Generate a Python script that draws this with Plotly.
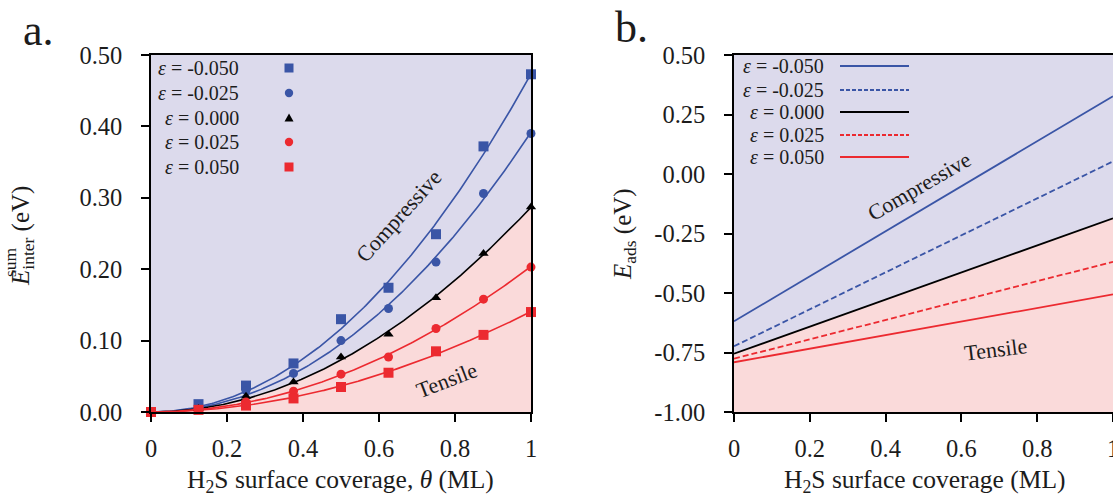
import numpy as np
import plotly.graph_objects as go

# ---- data -------------------------------------------------------------
coverage = [0.0, 0.125, 0.25, 0.375, 0.5, 0.625, 0.75, 0.875, 1.0]
strain_labels = ["-0.050", "-0.025", "0.000", "0.025", "0.050"]

# interaction energy sums (eV) for each lattice strain
e_inter_m050 = [0.0, 0.011, 0.037, 0.068, 0.130, 0.174, 0.249, 0.372, 0.473]
e_inter_m025 = [0.0, 0.008, 0.030, 0.054, 0.100, 0.145, 0.210, 0.306, 0.390]
e_inter_000 = [0.0, 0.005, 0.022, 0.042, 0.077, 0.109, 0.160, 0.222, 0.287]
e_inter_p025 = [0.0, 0.004, 0.014, 0.029, 0.053, 0.077, 0.117, 0.158, 0.203]
e_inter_p050 = [0.0, 0.003, 0.009, 0.019, 0.035, 0.055, 0.085, 0.108, 0.140]

# adsorption energy (eV) at zero and full coverage
coverage_b = [0.0, 1.0]
e_ads_m050 = [-0.619, 0.327]
e_ads_m025 = [-0.724, 0.053]
e_ads_000 = [-0.755, -0.186]
e_ads_p025 = [-0.776, -0.369]
e_ads_p050 = [-0.791, -0.506]

x_ticks = [0, 0.2, 0.4, 0.6, 0.8, 1.0]
x_ticktext = ["0", "0.2", "0.4", "0.6", "0.8", "1"]
ya_ticks = [0.0, 0.1, 0.2, 0.3, 0.4, 0.5]
ya_ticktext = ["0.00", "0.10", "0.20", "0.30", "0.40", "0.50"]
yb_ticks = [-1.0, -0.75, -0.5, -0.25, 0.0, 0.25, 0.5]
yb_ticktext = ["-1.00", "-0.75", "-0.50", "-0.25", "0.00", "0.25", "0.50"]
ya_range = [0.0, 0.5]
yb_range = [-1.0, 0.5]

# ---- styling ----------------------------------------------------------
W, H = 1113, 496
FONT = "Liberation Serif"
INK = "#1c1c1c"
BLUE = "#3a55a6"
RED = "#ec2a30"
BLACK = "#000000"
LAVENDER = "#dcdaec"
PINK = "#fadada"

series_a = [
    (e_inter_m050, BLUE, "square", 10),
    (e_inter_m025, BLUE, "circle", 9),
    (e_inter_000, BLACK, "triangle-up", 9),
    (e_inter_p025, RED, "circle", 9),
    (e_inter_p050, RED, "square", 10),
]
series_b = [
    (e_ads_m050, BLUE, "solid"),
    (e_ads_m025, BLUE, "6px,3px"),
    (e_ads_000, BLACK, "solid"),
    (e_ads_p025, RED, "6px,3px"),
    (e_ads_p050, RED, "solid"),
]


def px(x):
    return x / W


def py(y):
    return 1 - y / H


def fit_curve(theta, values, grid):
    # least-squares fit with theta^2 and theta^3 terms (passes through origin)
    t = np.asarray(theta)
    A = np.column_stack([t ** 2, t ** 3])
    coef, *_ = np.linalg.lstsq(A, np.asarray(values), rcond=None)
    return coef[0] * grid ** 2 + coef[1] * grid ** 3


grid = np.linspace(0, 1, 201)
fig = go.Figure()

# panel a: tensile region below the unstrained curve
fit0 = fit_curve(coverage, e_inter_000, grid)
fig.add_trace(go.Scatter(x=grid, y=fit0, mode="lines", line=dict(width=0),
                         fill="tozeroy", fillcolor=PINK, hoverinfo="skip",
                         showlegend=False, xaxis="x", yaxis="y"))
for vals, color, sym, size in series_a:
    fig.add_trace(go.Scatter(x=grid, y=fit_curve(coverage, vals, grid), mode="lines",
                             line=dict(color=color, width=1.6), showlegend=False,
                             xaxis="x", yaxis="y"))
for vals, color, sym, size in series_a:
    fig.add_trace(go.Scatter(x=coverage, y=vals, mode="markers",
                             marker=dict(symbol=sym, size=size, color=color, line=dict(width=0)),
                             cliponaxis=False, showlegend=False, xaxis="x", yaxis="y"))

# panel b: tensile region below the unstrained line
fig.add_trace(go.Scatter(x=coverage_b + coverage_b[::-1],
                         y=e_ads_000 + [yb_range[0], yb_range[0]],
                         mode="lines", line=dict(width=0), fill="toself", fillcolor=PINK,
                         hoverinfo="skip", showlegend=False, xaxis="x2", yaxis="y2"))
for vals, color, dash in series_b:
    fig.add_trace(go.Scatter(x=coverage_b, y=vals, mode="lines",
                             line=dict(color=color, width=1.8, dash=dash),
                             showlegend=False, xaxis="x2", yaxis="y2"))

axis_common = dict(
    showline=True, linecolor=BLACK, linewidth=1.5, mirror=True,
    ticks="outside", ticklen=8, tickwidth=1.5, tickcolor=BLACK,
    showgrid=False, zeroline=False, automargin=False,
    tickfont=dict(family=FONT, size=24.5, color=INK),
)
ydom = [py(412), py(55)]
fig.update_layout(
    width=W, height=H, margin=dict(l=0, r=0, t=0, b=0, pad=0),
    paper_bgcolor="white", plot_bgcolor=LAVENDER,
    xaxis=dict(domain=[px(151), px(531)], range=[0, 1], tickvals=x_ticks,
               ticktext=x_ticktext, anchor="y", ticklabelstandoff=6, **axis_common),
    yaxis=dict(domain=ydom, range=ya_range, tickvals=ya_ticks, ticktext=ya_ticktext,
               anchor="x", ticklabelstandoff=14, **axis_common),
    xaxis2=dict(domain=[px(734), 1.0], range=[0, 1], tickvals=x_ticks,
                ticktext=x_ticktext, anchor="y2", ticklabelstandoff=6,
                ticklabeloverflow="allow", **axis_common),
    yaxis2=dict(domain=ydom, range=yb_range, tickvals=yb_ticks, ticktext=yb_ticktext,
                anchor="x2", ticklabelstandoff=14, **axis_common),
)

ann = []


def text(x, y, s, size, angle=0, xanchor="center", yanchor="middle"):
    ann.append(dict(x=px(x), y=py(y), xref="paper", yref="paper", text=s,
                    showarrow=False, textangle=angle, xanchor=xanchor, yanchor=yanchor,
                    font=dict(family=FONT, size=size, color=INK)))


# panel letters
text(38, 30, "a.", 44)
text(631, 28, "b.", 44)

# axis titles
text(340, 481, "H<sub>2</sub>S surface coverage, <i>θ</i> (ML)", 25.5)
text(925, 481, "H<sub>2</sub>S surface coverage (ML)", 25.5)
text(22, 236, "<i>E</i><sub>inter</sub> (eV)", 25, angle=-90)
text(10, 262, "sum", 17.5, angle=-90)
text(624, 234, "<i>E</i><sub>ads</sub> (eV)", 25, angle=-90)

# region labels
text(398, 216, "Compressive", 22, angle=-48)
text(446, 380, "Tensile", 22, angle=-21)
text(919, 187, "Compressive", 22, angle=-30)
text(995, 349, "Tensile", 22, angle=-7)

shapes = []
# legend, panel a (markers to the right of the labels)
rows_a = [68, 93, 118, 142, 167]
for (vals, color, sym, size), lab, yy in zip(series_a, strain_labels, rows_a):
    text(241, yy, "<i>ε</i> = " + lab, 20, xanchor="right")
    base = dict(xref="paper", yref="paper", xsizemode="pixel", ysizemode="pixel",
                xanchor=px(289), yanchor=py(yy), fillcolor=color, line=dict(width=0))
    if sym == "square":
        shapes.append(dict(type="rect", x0=-4.5, x1=4.5, y0=-4.5, y1=4.5, **base))
    elif sym == "circle":
        shapes.append(dict(type="circle", x0=-4.2, x1=4.2, y0=-4.2, y1=4.2, **base))
    else:
        shapes.append(dict(type="path", path="M-4.5,-3.5 L4.5,-3.5 L0,4.5 Z", **base))

# legend, panel b (line samples to the right of the labels)
rows_b = [66, 90, 112, 135, 157]
for (vals, color, dash), lab, yy in zip(series_b, strain_labels, rows_b):
    text(826, yy, "<i>ε</i> = " + lab, 20, xanchor="right")
    shapes.append(dict(type="line", xref="paper", yref="paper",
                       x0=px(840), x1=px(909), y0=py(yy), y1=py(yy),
                       line=dict(color=color, width=1.8,
                                 dash="4px,2px" if dash != "solid" else "solid")))

fig.update_layout(annotations=ann, shapes=shapes)
fig.write_html("out.html")
